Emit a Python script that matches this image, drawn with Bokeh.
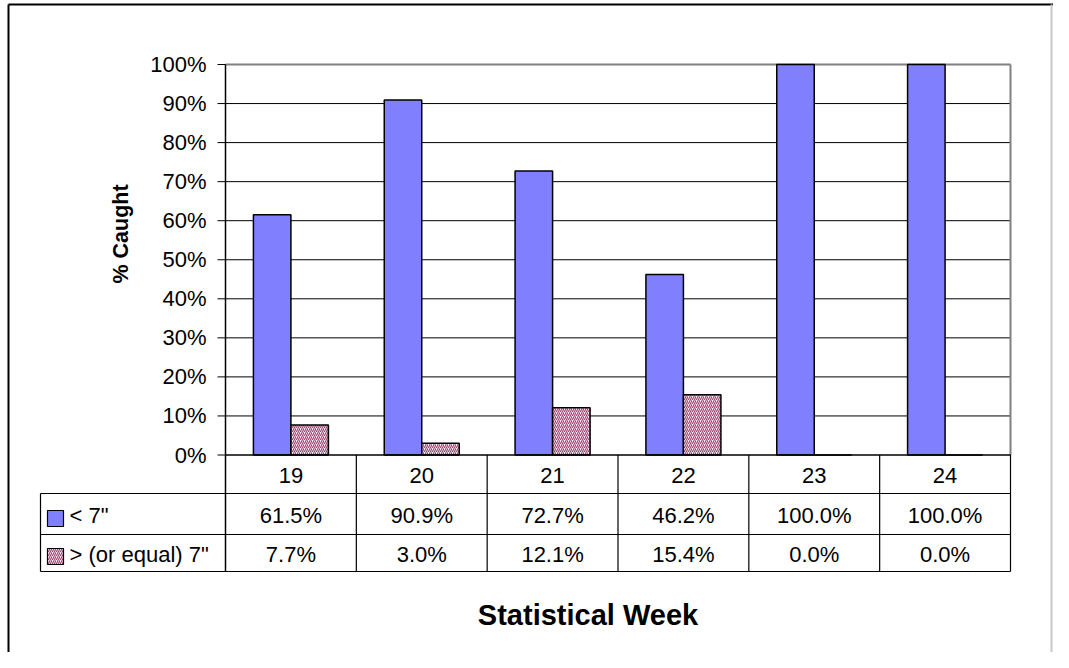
import math
from bokeh.plotting import figure
from bokeh.models import Range1d, ColumnDataSource
from bokeh.core.properties import value
from bokeh.embed import file_html
from bokeh.resources import INLINE

# ---- data ----
weeks = ["19", "20", "21", "22", "23", "24"]
under7 = [61.5, 90.9, 72.7, 46.2, 100.0, 100.0]
over7 = [7.7, 3.0, 12.1, 15.4, 0.0, 0.0]
series_names = ['< 7"', '> (or equal) 7"']
y_ticks = [0, 10, 20, 30, 40, 50, 60, 70, 80, 90, 100]
y_tick_labels = [f"{t}%" for t in y_ticks]

# ---- layout (picture pixels -> data coords) ----
W, H = 1053, 652
OX, OY = 0, 0
PL, PR = 225, 1010        # plot area left/right (px)
P0, P100 = 454.5, 64      # y of 0% and 100% (px)
n = len(weeks)
sx = (PR - PL) / n
sy = (P0 - P100) / 100.0

def X(px):
    return (px - PL) / sx

def Y(py):
    return (P0 - py) / sy

FONT = value("Liberation Sans")
FS = value("22px")
HATCH = dict(fill_color="#fbf0f5", hatch_pattern="/", hatch_color="#a04070",
             hatch_scale=4, hatch_weight=1.1)

p = figure(width=W, height=H, output_backend="svg", toolbar_location=None,
           x_range=Range1d(X(OX), X(OX + W)), y_range=Range1d(Y(OY + H), Y(OY)),
           min_border=0, outline_line_color=None)
p.xaxis.visible = False
p.yaxis.visible = False
p.grid.visible = False
p.background_fill_color = "white"
p.border_fill_color = "white"

# outer frame of chart
p.segment(x0=[X(8), X(8)], y0=[Y(OY + H), Y(4)], x1=[X(8), X(OX + W)], y1=[Y(4), Y(4)],
          line_color="black", line_width=2)
p.segment(x0=[X(1051)], y0=[Y(4)], x1=[X(1051)], y1=[Y(OY + H)],
          line_color="#c8c8c8", line_width=2)

# gridlines 10..90 black, 100 gray
grid_vals = y_ticks[1:-1]
p.segment(x0=[0] * len(grid_vals), x1=[n] * len(grid_vals), y0=grid_vals, y1=grid_vals,
          line_color="black", line_width=1)
p.segment(x0=[0], x1=[n], y0=[100], y1=[100], line_color="#808080", line_width=2)
p.segment(x0=[n], x1=[n], y0=[0], y1=[100], line_color="#808080", line_width=2)

# y tick marks and labels
tick_len = 8 / sx
p.segment(x0=[-tick_len] * len(y_ticks), x1=[0] * len(y_ticks), y0=y_ticks, y1=y_ticks,
          line_color="black", line_width=1)
p.text(x=[X(206)] * len(y_ticks), y=y_ticks, text=y_tick_labels,
       text_font=FONT, text_font_size=FS, text_align="right",
       text_baseline="middle", text_color="black")

# bars
centers = [i + 0.5 for i in range(n)]
bw = 37.5 / sx
src = ColumnDataSource(dict(
    xu=[c - bw / 2 for c in centers],
    xo=[c + bw / 2 for c in centers],
    u=under7, o=over7))
p.vbar(x="xu", top="u", bottom=0, width=bw, source=src,
       fill_color="#8080FF", line_color="black", line_width=1.5)
p.vbar(x="xo", top="o", bottom=0, width=bw, source=src,
       line_color="black", line_width=1.5, **HATCH)

# y axis line and x axis line
p.segment(x0=[0], x1=[0], y0=[100], y1=[Y(571)], line_color="black", line_width=1.5)
p.segment(x0=[0], x1=[n], y0=[0], y1=[0], line_color="black", line_width=1.5)

# data table
r1, r2, rb = Y(493), Y(534), Y(571)
lx = X(40)
p.segment(x0=[lx, lx, lx], x1=[n, n, n], y0=[r1, r2, rb], y1=[r1, r2, rb],
          line_color="black", line_width=1.2)
p.segment(x0=[lx], x1=[lx], y0=[r1], y1=[rb], line_color="black", line_width=1.2)
bounds = list(range(1, n + 1))
p.segment(x0=bounds, x1=bounds, y0=[0] * n, y1=[rb] * n, line_color="black", line_width=1.2)

# category labels and values
p.text(x=centers, y=[Y(474.5)] * n, text=weeks, text_font=FONT,
       text_font_size=FS, text_align="center", text_baseline="middle",
       text_color="black")
p.text(x=centers, y=[Y(515)] * n, text=[f"{v:.1f}%" for v in under7], text_font=FONT,
       text_font_size=FS, text_align="center", text_baseline="middle",
       text_color="black")
p.text(x=centers, y=[Y(554)] * n, text=[f"{v:.1f}%" for v in over7], text_font=FONT,
       text_font_size=FS, text_align="center", text_baseline="middle",
       text_color="black")

# legend keys in table
p.rect(x=[X(55)], y=[Y(518)], width=16, height=16, width_units="screen",
       height_units="screen", fill_color="#8080FF", line_color="black", line_width=1.2)
p.rect(x=[X(55)], y=[Y(556)], width=16, height=16, width_units="screen",
       height_units="screen", line_color="black", line_width=1.2, **HATCH)
p.text(x=[X(69), X(69)], y=[Y(515), Y(554)], text=series_names, text_font=FONT,
       text_font_size=FS, text_align="left", text_baseline="middle",
       text_color="black")

# axis titles
p.text(x=[X(120)], y=[Y(233.5)], text=["% Caught"], angle=math.pi / 2, text_font=FONT,
       text_font_size=value("21.5px"), text_font_style="bold", text_align="center",
       text_baseline="middle", text_color="black")
p.text(x=[X(587.5)], y=[Y(614)], text=["Statistical Week"], text_font=FONT,
       text_font_size=value("29px"), text_font_style="bold", text_align="center",
       text_baseline="middle", text_color="black")

open("out.html", "w").write(file_html(p, INLINE))
